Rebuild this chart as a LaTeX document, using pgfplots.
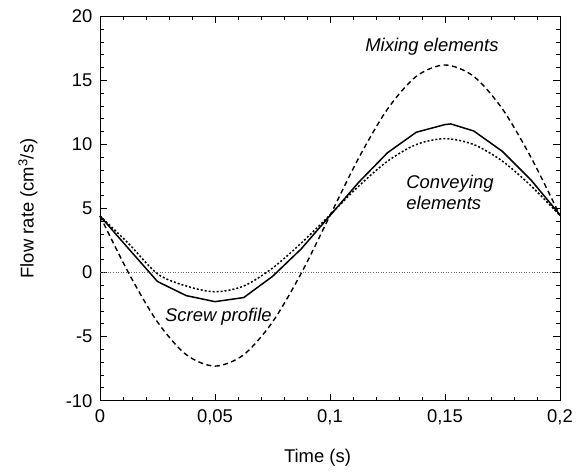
\documentclass[border=0pt]{standalone}
\usepackage{pgfplots}
\pgfplotsset{compat=1.18}
\usepackage{fontspec}
\setmainfont{Liberation Sans}
\begin{document}
\begin{tikzpicture}
\useasboundingbox (0,0) rectangle (577bp,475bp);
\begin{axis}[
  at={(100bp,74.3bp)}, anchor=south west,
  scale only axis, width=460bp, height=384.4bp,
  xmin=0, xmax=0.2, ymin=-10, ymax=20,
  xtick={0,0.05,0.1,0.15,0.2},
  xticklabels={0,{0,05},{0,1},{0,15},{0,2}},
  ytick={-10,-5,0,5,10,15,20},
  yticklabels={-10,-5,0,5,10,15,20},
  minor x tick num=4, minor y tick num=4,
  tick align=inside,
  major tick length=7bp, minor tick length=4bp,
  every tick/.style={black, line width=0.8bp},
  axis line style={line width=0.9bp},
  font=\fontsize{18.5}{22}\selectfont,
  ticklabel style={font=\fontsize{18.5}{22}\selectfont},
  xticklabel style={anchor=north, yshift=-5bp},
  yticklabel style={anchor=east, xshift=-4bp},
  xlabel={Time (s)},
  ylabel={Flow rate (cm\textsuperscript{3}/s)},
  xlabel style={at={(axis description cs:0.4728,0)}, anchor=center, yshift=-57bp},
  ylabel style={at={(axis description cs:-0.157,0.5)}, anchor=center},
  clip=false,
]
% zero line
\addplot[gray!80!black, line width=0.7bp, dash pattern=on 1bp off 1.6bp] coordinates {(0,0) (0.2,0)};
% Mixing elements (dashed)
\addplot[black, line width=1.4bp, dash pattern=on 5bp off 3.5bp, smooth] coordinates {
(0,4.42) (0.0125,-0.05) (0.025,-3.86) (0.0375,-6.41) (0.05,-7.30) (0.0625,-6.41)
(0.075,-3.86) (0.0875,-0.05) (0.1,4.45) (0.1125,8.95) (0.125,12.76) (0.1375,15.31)
(0.15,16.20) (0.1625,15.31) (0.175,12.76) (0.1875,8.95) (0.2,4.45)};
% Screw profile (solid)
\addplot[black, line width=1.5bp] coordinates {
(0,4.42) (0.0125,1.85) (0.025,-0.70) (0.0375,-1.80) (0.05,-2.27) (0.0625,-1.95)
(0.075,-0.30) (0.0875,1.85) (0.1,4.45) (0.1125,7.05) (0.125,9.35) (0.1375,10.95)
(0.15,11.55) (0.1525,11.60) (0.1625,11.05) (0.175,9.45) (0.1875,7.20) (0.2,4.50)};
% Conveying elements (dotted)
\addplot[black, line width=1.5bp, dash pattern=on 2bp off 2bp, smooth] coordinates {
(0,4.42) (0.0125,2.25) (0.025,-0.10) (0.0375,-1.05) (0.05,-1.50) (0.0625,-1.05)
(0.075,0.35) (0.0875,2.30) (0.1,4.50) (0.1125,6.75) (0.125,8.69) (0.1375,9.99)
(0.15,10.45) (0.1625,9.99) (0.175,8.69) (0.1875,6.75) (0.2,4.45)};
\node[anchor=east, font=\fontsize{18.5}{22}\selectfont\itshape] at (axis cs:0.1748,17.63) {Mixing elements};
\node[anchor=west, align=left, font=\fontsize{18.5}{21.3}\selectfont\itshape] at (axis cs:0.1317,6.25) {Conveying\\elements};
\node[anchor=west, font=\fontsize{18.5}{22}\selectfont\itshape] at (axis cs:0.0268,-3.47) {Screw profile};
\end{axis}
\end{tikzpicture}
\end{document}
